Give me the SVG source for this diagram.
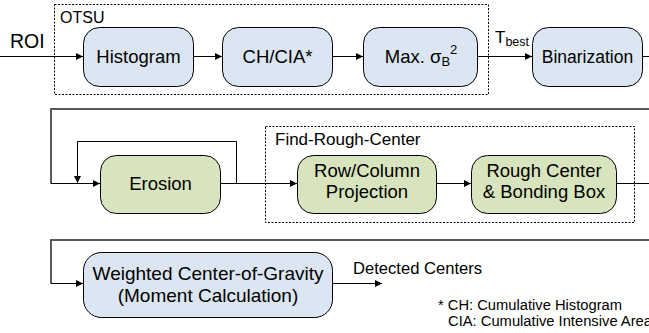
<svg xmlns="http://www.w3.org/2000/svg" width="649" height="333" viewBox="0 0 649 333">
  <defs>
    <marker id="arrow" viewBox="0 0 10 10" refX="10" refY="5" markerWidth="8" markerHeight="7" markerUnits="userSpaceOnUse" orient="auto">
      <path d="M0,0 L10,5 L0,10 z" fill="#000"/>
    </marker>
    <style>
      .blue { fill: #dce6f2; stroke: #000; stroke-width: 1; }
      .green { fill: #d7e4bd; stroke: #000; stroke-width: 1; }
      .group { fill: none; stroke: #000; stroke-width: 1; stroke-dasharray: 2 1.5; }
      .wire { fill: none; stroke: #000; stroke-width: 1; }
      .bus { fill: none; stroke: #595959; stroke-width: 2; }
      text { font-family: "Liberation Sans", Arial, sans-serif; fill: #000; }
      .lbl { font-size: 18.5px; text-anchor: middle; }
      .cap { font-size: 16px; }
      .note { font-size: 14px; }
    </style>
  </defs>

  <!-- grouping frames -->
  <g id="otsu-frame">
    <rect class="group" x="54.5" y="4.5" width="434" height="90"/>
    <text class="cap" x="60" y="23">OTSU</text>
  </g>
  <g id="find-rough-center-frame">
    <rect class="group" x="265.5" y="126.5" width="369" height="96"/>
    <text class="cap" x="275" y="145" style="font-size:17px">Find-Rough-Center</text>
  </g>

  <!-- connectors -->
  <g id="connectors">
    <!-- row 1 -->
    <line class="wire" x1="0" y1="56.5" x2="83" y2="56.5" marker-end="url(#arrow)"/>
    <line class="wire" x1="193" y1="56.5" x2="222" y2="56.5" marker-end="url(#arrow)"/>
    <line class="wire" x1="333" y1="56.5" x2="363" y2="56.5" marker-end="url(#arrow)"/>
    <line class="wire" x1="477" y1="56.5" x2="532" y2="56.5" marker-end="url(#arrow)"/>
    <line class="wire" x1="643" y1="56.5" x2="649" y2="56.5"/>
    <!-- row 2 -->
    <polyline class="bus" points="649,109 51,109 51,183.5"/>
    <line class="wire" x1="51" y1="183.5" x2="100" y2="183.5" marker-end="url(#arrow)"/>
    <polyline class="wire" points="236.5,183.5 236.5,141.5 77.5,141.5 77.5,183" marker-end="url(#arrow)"/>
    <line class="wire" x1="220" y1="183.5" x2="297" y2="183.5" marker-end="url(#arrow)"/>
    <line class="wire" x1="436" y1="183.5" x2="471" y2="183.5" marker-end="url(#arrow)"/>
    <line class="wire" x1="616" y1="183.5" x2="649" y2="183.5"/>
    <!-- row 3 -->
    <polyline class="bus" points="649,240 51,240 51,283.5"/>
    <line class="wire" x1="51" y1="283.5" x2="83" y2="283.5" marker-end="url(#arrow)"/>
    <line class="wire" x1="332" y1="283.5" x2="382" y2="283.5" marker-end="url(#arrow)"/>
  </g>

  <!-- edge labels -->
  <text x="10" y="48" style="font-size:19.5px">ROI</text>
  <text x="495" y="43" style="font-size:17px">T<tspan dy="3" style="font-size:12.5px">best</tspan></text>
  <text x="353" y="274" style="font-size:16.6px">Detected Centers</text>

  <!-- nodes -->
  <g id="histogram">
    <rect class="blue" x="83.5" y="27.5" width="110" height="59" rx="16"/>
    <text class="lbl" x="138.5" y="63">Histogram</text>
  </g>
  <g id="ch-cia">
    <rect class="blue" x="222.5" y="27.5" width="110" height="59" rx="16"/>
    <text class="lbl" x="277.5" y="63">CH/CIA*</text>
  </g>
  <g id="max-sigma">
    <rect class="blue" x="363.5" y="27.5" width="114" height="59" rx="16"/>
    <text class="lbl" x="421" y="63">Max. σ<tspan dy="3" style="font-size:13px">B</tspan><tspan dy="-12" style="font-size:13px">2</tspan></text>
  </g>
  <g id="binarization">
    <rect class="blue" x="532.5" y="27.5" width="110" height="59" rx="16"/>
    <text class="lbl" x="587.5" y="63" style="font-size:17.5px">Binarization</text>
  </g>
  <g id="erosion">
    <rect class="green" x="100.5" y="155.5" width="120" height="58" rx="16"/>
    <text class="lbl" x="160.5" y="190">Erosion</text>
  </g>
  <g id="row-column-projection">
    <rect class="green" x="297.5" y="155.5" width="139" height="58" rx="16"/>
    <text class="lbl" x="367" y="177">Row/Column</text>
    <text class="lbl" x="367" y="198">Projection</text>
  </g>
  <g id="rough-center">
    <rect class="green" x="471.5" y="155.5" width="145" height="58" rx="16"/>
    <text class="lbl" x="544" y="177">Rough Center</text>
    <text class="lbl" x="544" y="198">&amp; Bonding Box</text>
  </g>
  <g id="weighted-cog">
    <rect class="blue" x="83.5" y="252.5" width="249" height="65" rx="18"/>
    <text class="lbl" x="208" y="280" style="font-size:19px">Weighted Center-of-Gravity</text>
    <text class="lbl" x="208" y="302" style="font-size:19px">(Moment Calculation)</text>
  </g>

  <!-- footnote -->
  <text class="note" x="438" y="310" textLength="184" lengthAdjust="spacingAndGlyphs">* CH: Cumulative Histogram</text>
  <text class="note" x="448" y="326" textLength="204" lengthAdjust="spacingAndGlyphs">CIA: Cumulative Intensive Area</text>
</svg>
